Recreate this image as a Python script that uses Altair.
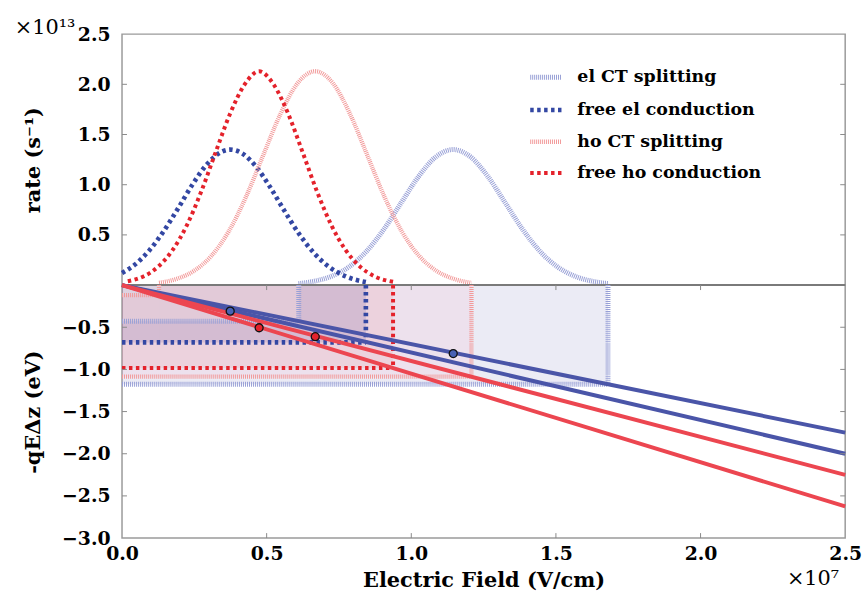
import altair as alt
import pandas as pd

# ---------------- data ----------------
series = ["el CT splitting", "free el conduction", "ho CT splitting", "free ho conduction"]

# top panel: rate curves (field in 1e7 V/cm, rate in 1e13 1/s)
el_ct_x = [0.61, 0.665, 0.725, 0.785, 0.845, 0.905, 0.965, 1.025, 1.085, 1.145,
           1.205, 1.265, 1.325, 1.385, 1.445, 1.505, 1.565, 1.625, 1.68]
el_ct_y = [0.015, 0.039, 0.089, 0.182, 0.336, 0.555, 0.819, 1.081, 1.277, 1.35,
           1.277, 1.081, 0.819, 0.555, 0.336, 0.182, 0.089, 0.039, 0.015]
free_el_x = [0.0, 0.045, 0.095, 0.145, 0.195, 0.245, 0.295, 0.345, 0.374, 0.415,
             0.465, 0.515, 0.565, 0.615, 0.665, 0.715, 0.775, 0.843]
free_el_y = [0.12, 0.205, 0.348, 0.541, 0.770, 1.008, 1.208, 1.329, 1.35, 1.313,
             1.174, 0.962, 0.723, 0.498, 0.315, 0.183, 0.085, 0.03]
ho_ct_x = [0.128, 0.188, 0.248, 0.308, 0.368, 0.428, 0.488, 0.548, 0.608, 0.668,
           0.728, 0.788, 0.848, 0.908, 0.968, 1.028, 1.088, 1.148, 1.208]
ho_ct_y = [0.022, 0.061, 0.140, 0.288, 0.530, 0.875, 1.293, 1.706, 2.015, 2.13,
           2.015, 1.706, 1.293, 0.875, 0.530, 0.288, 0.140, 0.061, 0.022]
free_ho_x = [0.02, 0.074, 0.124, 0.174, 0.224, 0.274, 0.324, 0.374, 0.424, 0.474,
             0.524, 0.574, 0.624, 0.674, 0.724, 0.774, 0.824, 0.874, 0.937]
free_ho_y = [0.038, 0.086, 0.181, 0.345, 0.595, 0.933, 1.326, 1.710, 1.999, 2.13,
             1.999, 1.710, 1.326, 0.933, 0.595, 0.345, 0.181, 0.086, 0.033]

# bottom panel: field windows and energies (eV)
x_start = [0.611, 0.0, 0.128, 0.0]
x_end = [1.680, 0.843, 1.208, 0.937]
e_start = [-0.428, 0.0, -0.118, 0.0]
e_end = [-1.176, -0.680, -1.085, -0.984]

# straight -qE*dz lines from origin to x = 2.5
line_ids = ["L1", "L2", "L3", "L4"]
line_group = ["el", "el", "ho", "ho"]
line_x_end = 2.5
line_e_end = [-1.75, -2.0, -2.25, -2.625]

# marked points
dot_x = [0.374, 0.474, 0.668, 1.145]
dot_e = [-0.309, -0.506, -0.612, -0.812]
dot_group = ["el", "ho", "ho", "el"]

x_ticks = [0.0, 0.5, 1.0, 1.5, 2.0, 2.5]
y_top_ticks = [0.5, 1.0, 1.5, 2.0, 2.5]
y_bot_ticks = [-3.0, -2.5, -2.0, -1.5, -1.0, -0.5]

top_exp = ["×10¹³"]
bot_exp = ["×10⁷"]

# ---------------- styles ----------------
FONT = "DejaVu Serif"
W, H_TOP, H_BOT = 729, 253, 255
series_colors = ["#98a0d6", "#3347a3", "#f29a9a", "#e4222b"]
series_dash = [[1, 1], [3.5, 3.5], [1, 1], [3.5, 3.5]]
series_width = [5, 4, 5, 4]
fill_colors = ["#9b9bcd", "#3347a3", "#ff9fb4", "#e4222b"]
fill_opacity = [0.2, 0.08, 0.34, 0.12]
group_line_colors = ["#4a55a8", "#ec4650"]
EL_DOT, HO_DOT = "#4862b4", "#e3232c"
TICK_GRAY = "#8a8a8a"

x_scale = alt.Scale(domain=[0, 2.5], nice=False, zero=False)
y_top_scale = alt.Scale(domain=[0, 2.5], nice=False)
y_bot_scale = alt.Scale(domain=[-3, 0], nice=False)
color_scale = alt.Scale(domain=series, range=series_colors)
dash_scale = alt.Scale(domain=series, range=series_dash)
width_scale = alt.Scale(domain=series, range=series_width)

# ---------------- top panel ----------------
rows = []
for name, xs, ys in [(series[0], el_ct_x, el_ct_y), (series[1], free_el_x, free_el_y),
                     (series[2], ho_ct_x, ho_ct_y), (series[3], free_ho_x, free_ho_y)]:
    for i, (a, b) in enumerate(zip(xs, ys)):
        rows.append({"field": a, "rate": b, "series": name, "i": i})
curves = pd.DataFrame(rows)

legend = alt.Legend(
    title=None, orient="none", legendX=409, legendY=25,
    symbolType="stroke", symbolSize=1024, rowPadding=4, padding=0,
    labelFont=FONT, labelFontSize=17.5, labelFontWeight="bold", labelColor="black",
    labelOffset=13, labelLimit=400,
)

curve_layer = alt.Chart(curves).mark_line(interpolate="monotone", strokeCap="butt").encode(
    x=alt.X("field:Q", scale=x_scale, axis=None),
    y=alt.Y("rate:Q", scale=y_top_scale,
            axis=alt.Axis(values=y_top_ticks, format=".1f", title="rate (s⁻¹)",
                          titleX=-89, titleBaseline="middle")),
    color=alt.Color("series:N", scale=color_scale, legend=legend),
    strokeDash=alt.StrokeDash("series:N", scale=dash_scale, legend=legend),
    strokeWidth=alt.StrokeWidth("series:N", scale=width_scale, legend=legend),
    order="i:Q",
)

top_left_ticks = alt.Chart(pd.DataFrame({"rate": y_top_ticks[:-1]})).mark_rule(
    color=TICK_GRAY, strokeWidth=1).encode(
    y=alt.Y("rate:Q", scale=y_top_scale), x=alt.value(0), x2=alt.value(5))
top_right_ticks = alt.Chart(pd.DataFrame({"rate": y_top_ticks[:-1]})).mark_rule(
    color=TICK_GRAY, strokeWidth=1).encode(
    y=alt.Y("rate:Q", scale=y_top_scale), x=alt.value(W - 5), x2=alt.value(W))

top_text = alt.Chart(pd.DataFrame({"t": top_exp})).mark_text(
    font=FONT, fontSize=21, align="right", baseline="alphabetic", color="black").encode(
    text="t:N", x=alt.value(-47), y=alt.value(0))

top = alt.layer(curve_layer, top_left_ticks, top_right_ticks, top_text).properties(
    width=W, height=H_TOP)

# ---------------- bottom panel ----------------
rect_rows = []
for i, name in enumerate(series):
    rect_rows.append({"series": name, "x": x_start[i], "x2": x_end[i], "y": 0.0, "y2": e_end[i]})
    if x_start[i] > 0:
        rect_rows.append({"series": name, "x": 0.0, "x2": x_start[i], "y": e_start[i], "y2": e_end[i]})
rects = pd.DataFrame(rect_rows)

h_rows, v_rows = [], []
for i, name in enumerate(series):
    h_rows.append({"series": name, "x": 0.0, "x2": x_end[i], "y": e_end[i]})
    v_rows.append({"series": name, "x": x_end[i], "y": 0.0, "y2": e_end[i]})
    if x_start[i] > 0:
        h_rows.append({"series": name, "x": 0.0, "x2": x_start[i], "y": e_start[i]})
        v_rows.append({"series": name, "x": x_start[i], "y": 0.0, "y2": e_start[i]})
hdf, vdf = pd.DataFrame(h_rows), pd.DataFrame(v_rows)

line_rows = []
for i, lid in enumerate(line_ids):
    line_rows.append({"id": lid, "group": line_group[i], "x": 0.0, "y": 0.0})
    line_rows.append({"id": lid, "group": line_group[i], "x": line_x_end, "y": line_e_end[i]})
lines = pd.DataFrame(line_rows)

dots = pd.DataFrame({"x": dot_x, "y": dot_e, "group": dot_group})

rect_layer = alt.Chart(rects).mark_rect(strokeWidth=0).encode(
    x=alt.X("x:Q", scale=x_scale,
            axis=alt.Axis(values=x_ticks, format=".1f", title="Electric Field (V/cm)",
                          labelFlush=False, labelPadding=7, titlePadding=6)),
    x2="x2:Q",
    y=alt.Y("y:Q", scale=y_bot_scale,
            axis=alt.Axis(values=y_bot_ticks, format=".1f", title="-qEΔz (eV)",
                          titleX=-89, titleBaseline="middle")),
    y2="y2:Q",
    fill=alt.Fill("series:N", scale=alt.Scale(domain=series, range=fill_colors), legend=None),
    fillOpacity=alt.FillOpacity("series:N", scale=alt.Scale(domain=series, range=fill_opacity), legend=None),
)

zero_rule = alt.Chart(pd.DataFrame({"y": [0.0]})).mark_rule(color="#7a7a7a", strokeWidth=2).encode(
    y=alt.Y("y:Q", scale=y_bot_scale))

h_layer = alt.Chart(hdf).mark_rule(strokeCap="butt").encode(
    x=alt.X("x:Q", scale=x_scale), x2="x2:Q",
    y=alt.Y("y:Q", scale=y_bot_scale),
    color=alt.Color("series:N", scale=color_scale, legend=None),
    strokeDash=alt.StrokeDash("series:N", scale=dash_scale, legend=None),
    strokeWidth=alt.StrokeWidth("series:N", scale=width_scale, legend=None),
)
v_layer = alt.Chart(vdf).mark_rule(strokeCap="butt").encode(
    x=alt.X("x:Q", scale=x_scale),
    y=alt.Y("y:Q", scale=y_bot_scale), y2="y2:Q",
    color=alt.Color("series:N", scale=color_scale, legend=None),
    strokeDash=alt.StrokeDash("series:N", scale=dash_scale, legend=None),
    strokeWidth=alt.StrokeWidth("series:N", scale=width_scale, legend=None),
)

line_layer = alt.Chart(lines).mark_line(strokeWidth=4, strokeCap="butt").encode(
    x=alt.X("x:Q", scale=x_scale),
    y=alt.Y("y:Q", scale=y_bot_scale),
    stroke=alt.Stroke("group:N", scale=alt.Scale(domain=["el", "ho"], range=group_line_colors), legend=None),
    detail="id:N",
    order=alt.Order("group:N", sort="descending"),
)

dot_el = alt.Chart(dots).transform_filter(alt.datum.group == "el").mark_point(
    filled=True, shape="circle", size=65, fill=EL_DOT, stroke="#111111", strokeWidth=1.3, opacity=1).encode(
    x=alt.X("x:Q", scale=x_scale), y=alt.Y("y:Q", scale=y_bot_scale))
dot_ho = alt.Chart(dots).transform_filter(alt.datum.group == "ho").mark_point(
    filled=True, shape="circle", size=65, fill=HO_DOT, stroke="#111111", strokeWidth=1.3, opacity=1).encode(
    x=alt.X("x:Q", scale=x_scale), y=alt.Y("y:Q", scale=y_bot_scale))

bl_ticks = alt.Chart(pd.DataFrame({"y": y_bot_ticks[1:]})).mark_rule(color=TICK_GRAY, strokeWidth=1).encode(
    y=alt.Y("y:Q", scale=y_bot_scale), x=alt.value(0), x2=alt.value(5))
br_ticks = alt.Chart(pd.DataFrame({"y": y_bot_ticks[1:]})).mark_rule(color=TICK_GRAY, strokeWidth=1).encode(
    y=alt.Y("y:Q", scale=y_bot_scale), x=alt.value(W - 5), x2=alt.value(W))
bb_ticks = alt.Chart(pd.DataFrame({"x": x_ticks[1:-1]})).mark_rule(color=TICK_GRAY, strokeWidth=1).encode(
    x=alt.X("x:Q", scale=x_scale), y=alt.value(H_BOT - 5), y2=alt.value(H_BOT))
bt_ticks = alt.Chart(pd.DataFrame({"x": x_ticks[1:-1]})).mark_rule(color=TICK_GRAY, strokeWidth=1).encode(
    x=alt.X("x:Q", scale=x_scale), y=alt.value(0), y2=alt.value(5))

bot_text = alt.Chart(pd.DataFrame({"t": bot_exp})).mark_text(
    font=FONT, fontSize=21, align="right", baseline="alphabetic", color="black").encode(
    text="t:N", x=alt.value(W - 6), y=alt.value(H_BOT + 47))

bottom = alt.layer(rect_layer, zero_rule, h_layer, v_layer, line_layer, dot_el, dot_ho,
                   bl_ticks, br_ticks, bb_ticks, bt_ticks, bot_text).properties(width=W, height=H_BOT)

chart = alt.VConcatChart(vconcat=[top, bottom], spacing=0, bounds="flush").resolve_scale(
    color="independent", strokeDash="independent", strokeWidth="independent"
).resolve_legend(
    color="independent", strokeDash="independent", strokeWidth="independent"
).properties(
    padding={"left": 14, "top": 14, "right": 5, "bottom": 0}, background="white"
).configure_view(
    stroke="#9a9a9a", strokeWidth=1.5
).configure_axis(
    labelFont=FONT, labelFontSize=19, labelFontWeight="bold", labelColor="black",
    titleFont=FONT, titleFontSize=21, titleFontWeight="bold", titleColor="black",
    ticks=False, domain=False, grid=False, labelPadding=12,
)

chart.save("out.html", embed_options={"renderer": "svg", "actions": False})
